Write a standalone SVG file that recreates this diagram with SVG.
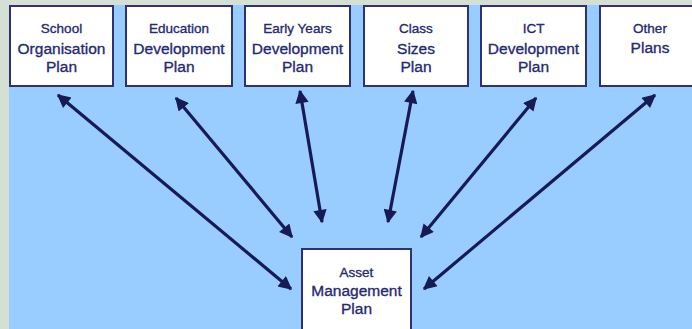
<svg xmlns="http://www.w3.org/2000/svg" width="692" height="329" viewBox="0 0 692 329">
  <style>
    .box { fill: #ffffff; stroke: #2e3272; stroke-width: 2; }
    .lbl { font-family: "Liberation Sans", Arial, sans-serif; font-size: 15.5px; fill: #262a72; stroke: #262a72; stroke-width: 0.35; text-anchor: middle; }
    .lbl .top { font-size: 13.5px; }
    .link { stroke: #171a55; stroke-width: 3.2; fill: none; marker-start: url(#head); marker-end: url(#head); }
  </style>
  <defs>
    <marker id="head" viewBox="0 0 10 10" refX="9" refY="5" markerWidth="4.6" markerHeight="4.2" markerUnits="strokeWidth" orient="auto-start-reverse">
      <path d="M0,0 L10,5 L0,10 z" fill="#171a55"/>
    </marker>
  </defs>

  <!-- page background and frame -->
  <rect x="0" y="0" width="692" height="329" fill="#99ccff"/>
  <rect x="0" y="0" width="692" height="5" fill="#d6dfd3"/>
  <rect x="0" y="0" width="9" height="329" fill="#d6dfd3"/>

  <!-- connectors -->
  <g id="connectors">
    <line class="link" x1="58" y1="95" x2="291" y2="289"/>
    <line class="link" x1="176" y1="98" x2="292" y2="237"/>
    <line class="link" x1="300" y1="91" x2="322" y2="222"/>
    <line class="link" x1="413" y1="91" x2="388" y2="222"/>
    <line class="link" x1="536" y1="98" x2="421" y2="237"/>
    <line class="link" x1="655" y1="95" x2="424" y2="289"/>
  </g>

  <g id="school-organisation-plan">
    <rect class="box" x="10" y="6" width="103" height="80"/>
    <text class="lbl"><tspan class="top" x="61.5" y="33">School</tspan><tspan x="61.5" y="54">Organisation</tspan><tspan x="61.5" y="72">Plan</tspan></text>
  </g>

  <g id="education-development-plan">
    <rect class="box" x="126" y="6" width="106" height="80"/>
    <text class="lbl"><tspan class="top" x="179" y="33">Education</tspan><tspan x="179" y="54">Development</tspan><tspan x="179" y="72">Plan</tspan></text>
  </g>

  <g id="early-years-development-plan">
    <rect class="box" x="245" y="6" width="105" height="80"/>
    <text class="lbl"><tspan class="top" x="297.5" y="33">Early Years</tspan><tspan x="297.5" y="54">Development</tspan><tspan x="297.5" y="72">Plan</tspan></text>
  </g>

  <g id="class-sizes-plan">
    <rect class="box" x="364" y="6" width="104" height="80"/>
    <text class="lbl"><tspan class="top" x="416" y="33">Class</tspan><tspan x="416" y="54">Sizes</tspan><tspan x="416" y="72">Plan</tspan></text>
  </g>

  <g id="ict-development-plan">
    <rect class="box" x="481" y="6" width="105" height="80"/>
    <text class="lbl"><tspan class="top" x="533.5" y="33">ICT</tspan><tspan x="533.5" y="54">Development</tspan><tspan x="533.5" y="72">Plan</tspan></text>
  </g>

  <g id="other-plans">
    <rect class="box" x="600" y="6" width="100" height="80"/>
    <text class="lbl"><tspan class="top" x="650" y="33">Other</tspan><tspan x="650" y="53">Plans</tspan></text>
  </g>

  <g id="asset-management-plan">
    <rect class="box" x="302" y="249" width="109" height="90"/>
    <text class="lbl"><tspan class="top" x="356.5" y="277">Asset</tspan><tspan x="356.5" y="296">Management</tspan><tspan x="356.5" y="314">Plan</tspan></text>
  </g>
</svg>
